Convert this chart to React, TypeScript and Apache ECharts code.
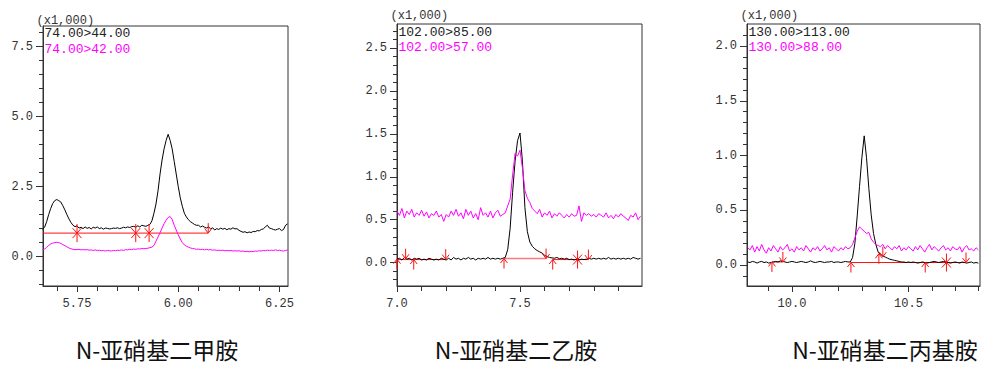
import React, { useEffect, useRef } from "react";
import * as echarts from "echarts";

const MONO = "'Liberation Mono', 'DejaVu Sans Mono', monospace";
const CJK = "'Noto Sans CJK SC', 'Noto Sans', sans-serif";
const AXIS = "#333333";
const RED = "#ff1010";
const RED_LIGHT = "#ff7a7a";

// ---- N-亚硝基二甲胺 (NDMA), sampled every 0.005 min from 5.665 min, intensity x1,000 ----
const dmaStart = 5.665;
const dmaStep = 0.005;
const dmaTransitions = ["74.00>44.00", "74.00>42.00"];
const dmaQuant = [
  0.98, 1.05, 1.25, 1.5, 1.72, 1.9, 2.0, 2.04, 2.0, 1.95,
  1.82, 1.67, 1.5, 1.35, 1.22, 1.12, 1.07, 1.1, 1.02, 1.05,
  1.0, 1.06, 1.01, 1.04, 0.99, 1.05, 1.02, 1.06, 1.0, 1.03,
  0.98, 1.02, 1.01, 0.99, 1.0, 1.02, 1.01, 1.03, 1.0, 1.02,
  1.05, 1.03, 1.06, 1.04, 1.07, 1.08, 1.05, 1.1, 1.06, 1.12,
  1.1, 1.08, 1.12, 1.15, 1.28, 1.55, 1.88, 2.35, 2.95, 3.45,
  3.85, 4.15, 4.37, 4.15, 3.85, 3.4, 2.95, 2.5, 2.1, 1.8,
  1.55, 1.42, 1.32, 1.25, 1.2, 1.15, 1.12, 1.12, 1.06, 1.09,
  1.05, 1.02, 1.06, 0.99, 1.03, 0.95, 1.0, 0.97, 1.02, 0.98,
  1.01, 0.96, 1.0, 0.98, 1.03, 0.99, 1.0, 0.94, 0.9, 0.87,
  0.89, 0.85, 0.88, 0.86, 0.9, 0.89, 0.93, 0.92, 0.97, 0.99,
  1.06, 1.12, 1.02, 1.0, 0.97, 0.95, 0.98, 1.0, 0.93, 0.97,
  1.12, 1.17,
];
const dmaQual = [
  0.24, 0.27, 0.33, 0.4, 0.45, 0.48, 0.5, 0.51, 0.5, 0.47,
  0.43, 0.39, 0.35, 0.31, 0.28, 0.26, 0.25, 0.25, 0.26, 0.24,
  0.25, 0.24, 0.25, 0.23, 0.24, 0.22, 0.24, 0.22, 0.23, 0.21,
  0.22, 0.2, 0.22, 0.21, 0.2, 0.22, 0.21, 0.23, 0.22, 0.24,
  0.22, 0.25, 0.24, 0.26, 0.25, 0.27, 0.26, 0.28, 0.27, 0.29,
  0.28, 0.29, 0.3, 0.32, 0.34, 0.4, 0.55, 0.7, 0.85, 1.02,
  1.18, 1.3, 1.4, 1.43, 1.33, 1.12, 0.95, 0.78, 0.63, 0.5,
  0.42, 0.37, 0.34, 0.31, 0.29, 0.28, 0.26, 0.27, 0.25, 0.26,
  0.24, 0.26, 0.24, 0.25, 0.23, 0.24, 0.22, 0.23, 0.22, 0.23,
  0.21, 0.22, 0.21, 0.22, 0.2, 0.21, 0.2, 0.21, 0.19, 0.2,
  0.18, 0.19, 0.17, 0.19, 0.18, 0.2, 0.19, 0.21, 0.2, 0.22,
  0.21, 0.23, 0.22, 0.23, 0.22, 0.24, 0.22, 0.23, 0.21, 0.2,
  0.22, 0.24,
];
// integration marks: [time, level, kind] kind 0 = split, 1 = start (up), 2 = end (down)
const dmaMarks = [
  [5.75, 0.84, 0],
  [5.895, 0.84, 0],
  [5.928, 0.84, 0],
  [6.074, 0.84, 2],
];
// baselines: [from, to, level, light]
const dmaBaselines = [[5.666, 6.074, 0.84, 0]];
const dmaXMajor = [5.75, 6.0, 6.25];
const dmaXMinor = [5.7, 5.8, 5.85, 5.9, 5.95, 6.05, 6.1, 6.15, 6.2];
const dmaYMajor = [0, 2.5, 5, 7.5];
const dmaYMinor = [-1, -0.5, 0.5, 1, 1.5, 2, 3, 3.5, 4, 4.5, 5.5, 6, 6.5, 7, 8];

// ---- N-亚硝基二乙胺 (NDEA), sampled every 0.01 min from 7.00 min ----
const deaStart = 7.0;
const deaStep = 0.01;
const deaTransitions = ["102.00>85.00", "102.00>57.00"];
const deaQuant = [
  0.04, 0.05, 0.03, 0.06, 0.04, 0.05, 0.03, 0.05, 0.04, 0.05,
  0.03, 0.04, 0.03, 0.05, 0.04, 0.03, 0.04, 0.03, 0.05, 0.04,
  0.03, 0.05, 0.03, 0.06, 0.04, 0.05, 0.03, 0.05, 0.04, 0.06,
  0.04, 0.05, 0.03, 0.05, 0.04, 0.05, 0.04, 0.06, 0.04, 0.05,
  0.04, 0.05, 0.04, 0.05, 0.06, 0.15, 0.4, 0.82, 1.18, 1.42,
  1.51, 1.18, 0.64, 0.36, 0.24, 0.19, 0.16, 0.14, 0.125, 0.11,
  0.085, 0.07, 0.06, 0.055, 0.05, 0.06, 0.045, 0.05, 0.04, 0.05,
  0.035, 0.04, 0.03, 0.04, 0.03, 0.04, 0.035, 0.04, 0.05, 0.04,
  0.05, 0.04, 0.05, 0.04, 0.05, 0.04, 0.06, 0.04, 0.05, 0.04,
  0.05, 0.04, 0.05, 0.04, 0.05, 0.04, 0.06, 0.05, 0.04, 0.05,
];
const deaQual = [
  0.6, 0.55, 0.63, 0.52, 0.6, 0.56, 0.62, 0.53, 0.58, 0.55,
  0.61, 0.54, 0.59, 0.52, 0.57, 0.55, 0.6, 0.53, 0.56, 0.48,
  0.56, 0.53, 0.6, 0.55, 0.62, 0.54, 0.58, 0.51, 0.62, 0.55,
  0.6, 0.52, 0.57, 0.5, 0.64, 0.55, 0.58, 0.53, 0.6, 0.52,
  0.58, 0.61, 0.54, 0.56, 0.58, 0.66, 0.74, 1.02, 1.27, 1.24,
  1.31, 1.1, 0.84, 0.75, 0.7, 0.63, 0.6, 0.57, 0.62, 0.53,
  0.58, 0.55, 0.6, 0.52, 0.57, 0.54, 0.58, 0.55, 0.52, 0.56,
  0.53, 0.57, 0.54, 0.55, 0.66, 0.48, 0.58, 0.55, 0.57, 0.54,
  0.56, 0.53, 0.57, 0.55, 0.53, 0.58, 0.52, 0.55, 0.51, 0.56,
  0.53, 0.57, 0.54, 0.52, 0.49, 0.55, 0.53, 0.58, 0.5, 0.54,
];
const deaMarks = [
  [7.0, 0.04, 1],
  [7.035, 0.045, 2],
  [7.068, 0.035, 1],
  [7.198, 0.04, 2],
  [7.435, 0.047, 1],
  [7.606, 0.047, 2],
  [7.633, 0.035, 1],
  [7.734, 0.035, 0],
  [7.778, 0.035, 2],
];
const deaBaselines = [
  [7.0, 7.198, 0.035, 0],
  [7.435, 7.606, 0.047, 1],
  [7.633, 7.778, 0.035, 0],
];
const deaXMajor = [7.0, 7.5];
const deaXMinor = [7.1, 7.2, 7.3, 7.4, 7.6, 7.7, 7.8, 7.9];
const deaYMajor = [0, 0.5, 1, 1.5, 2, 2.5];
const deaYMinor = [
  -0.2, -0.1, 0.1, 0.2, 0.3, 0.4, 0.6, 0.7, 0.8, 0.9, 1.1, 1.2,
  1.3, 1.4, 1.6, 1.7, 1.8, 1.9, 2.1, 2.2, 2.3, 2.4, 2.6, 2.7,
];

// ---- N-亚硝基二丙基胺 (NDPA), sampled every 0.01 min from 9.81 min ----
const dpaStart = 9.81;
const dpaStep = 0.01;
const dpaTransitions = ["130.00>113.00", "130.00>88.00"];
const dpaQuant = [
  0.03, 0.025, 0.035, 0.03, 0.02, 0.03, 0.035, 0.025, 0.03, 0.02,
  0.025, 0.03, 0.035, 0.03, 0.04, 0.035, 0.03, 0.025, 0.03, 0.035,
  0.03, 0.025, 0.03, 0.035, 0.03, 0.025, 0.03, 0.04, 0.03, 0.025,
  0.03, 0.035, 0.03, 0.025, 0.03, 0.03, 0.035, 0.025, 0.03, 0.03,
  0.025, 0.03, 0.035, 0.03, 0.03, 0.07, 0.2, 0.45, 0.72, 0.98,
  1.18, 0.98, 0.7, 0.46, 0.29, 0.19, 0.12, 0.1, 0.085, 0.075,
  0.065, 0.055, 0.05, 0.045, 0.04, 0.035, 0.03, 0.03, 0.025, 0.03,
  0.025, 0.03, 0.025, 0.02, 0.025, 0.03, 0.025, 0.02, 0.025, 0.03,
  0.035, 0.03, 0.025, 0.03, 0.035, 0.03, 0.025, 0.02, 0.025, 0.03,
  0.025, 0.02, 0.03, 0.025, 0.02, 0.025, 0.03, 0.02, 0.025, 0.02,
];
const dpaQual = [
  0.16, 0.14, 0.18, 0.12, 0.17, 0.13, 0.19, 0.14, 0.11, 0.16,
  0.13, 0.18, 0.15, 0.12, 0.17, 0.14, 0.16, 0.19, 0.13, 0.15,
  0.12, 0.17, 0.14, 0.16, 0.13, 0.18, 0.15, 0.12, 0.16, 0.14,
  0.17, 0.13, 0.15, 0.18, 0.14, 0.16, 0.12, 0.17, 0.15, 0.13,
  0.16, 0.14, 0.17, 0.15, 0.16, 0.19, 0.25, 0.31, 0.35, 0.33,
  0.31, 0.29, 0.3, 0.24, 0.21, 0.19, 0.18, 0.17, 0.19, 0.15,
  0.18, 0.16, 0.14, 0.17, 0.15, 0.18, 0.13, 0.16, 0.14, 0.17,
  0.15, 0.13, 0.17, 0.14, 0.18, 0.15, 0.12, 0.16, 0.19, 0.14,
  0.17, 0.15, 0.13, 0.16, 0.18, 0.14, 0.16, 0.13, 0.17, 0.15,
  0.14, 0.17, 0.12, 0.16, 0.18, 0.14, 0.15, 0.13, 0.16, 0.14,
];
const dpaMarks = [
  [9.914, 0.03, 1],
  [9.961, 0.03, 2],
  [10.253, 0.025, 1],
  [10.373, 0.105, 1],
  [10.39, 0.078, 2],
  [10.572, 0.025, 1],
  [10.663, 0.025, 0],
  [10.747, 0.025, 2],
];
const dpaBaselines = [
  [9.914, 9.961, 0.03, 0],
  [10.253, 10.747, 0.025, 0],
];
const dpaXMajor = [10.0, 10.5];
const dpaXMinor = [9.9, 10.1, 10.2, 10.3, 10.4, 10.6, 10.7, 10.8];
const dpaYMajor = [0, 0.5, 1, 1.5, 2];
const dpaYMinor = [
  -0.1, 0.1, 0.2, 0.3, 0.4, 0.6, 0.7, 0.8, 0.9, 1.1, 1.2, 1.3,
  1.4, 1.6, 1.7, 1.8, 1.9, 2.1,
];

const captions = ["N-亚硝基二甲胺", "N-亚硝基二乙胺", "N-亚硝基二丙基胺"];
const unitLabel = "(x1,000)";

// sample index -> retention time
const toPoints = (start: number, step: number, values: number[]) =>
  values.map((v, i) => [+(start + i * step).toFixed(4), v]);

const panels = [
  {
    left: 43, top: 26, width: 245, height: 260,
    xMin: 5.666, xMax: 6.271, yMin: -1.05, yMax: 8.24, xDigits: 2,
    unitY: 20.7, legendY: [33.5, 49.3], captionX: 157,
    xMajor: dmaXMajor, xMinor: dmaXMinor, yMajor: dmaYMajor, yMinor: dmaYMinor,
    start: dmaStart, step: dmaStep, quant: dmaQuant, qual: dmaQual,
    names: dmaTransitions, marks: dmaMarks, baselines: dmaBaselines, caption: captions[0],
  },
  {
    left: 397, top: 24, width: 245, height: 262,
    xMin: 7.0, xMax: 7.996, yMin: -0.273, yMax: 2.78, xDigits: 1,
    unitY: 16, legendY: [32.3, 47.3], captionX: 516,
    xMajor: deaXMajor, xMinor: deaXMinor, yMajor: deaYMajor, yMinor: deaYMinor,
    start: deaStart, step: deaStep, quant: deaQuant, qual: deaQual,
    names: deaTransitions, marks: deaMarks, baselines: deaBaselines, caption: captions[1],
  },
  {
    left: 747, top: 24, width: 233, height: 262,
    xMin: 9.807, xMax: 10.807, yMin: -0.189, yMax: 2.2, xDigits: 1,
    unitY: 16, legendY: [32.3, 47.3], captionX: 885,
    xMajor: dpaXMajor, xMinor: dpaXMinor, yMajor: dpaYMajor, yMinor: dpaYMinor,
    start: dpaStart, step: dpaStep, quant: dpaQuant, qual: dpaQual,
    names: dpaTransitions, marks: dpaMarks, baselines: dpaBaselines, caption: captions[2],
  },
];

function renderMark(_params: any, api: any) {
  const [x, y] = api.coord([api.value(0), api.value(1)]);
  const kind = api.value(2);
  const style = { stroke: RED, lineWidth: 1, fill: null };
  if (kind === 0) {
    return {
      type: "group",
      children: [
        { type: "line", shape: { x1: x, y1: y - 9, x2: x, y2: y + 9 }, style },
        { type: "line", shape: { x1: x - 4.5, y1: y - 5, x2: x + 4.5, y2: y + 5 }, style },
        { type: "line", shape: { x1: x - 4.5, y1: y + 5, x2: x + 4.5, y2: y - 5 }, style },
      ],
    };
  }
  // start marks hang below the tip, end marks stand above it
  const dir = kind === 1 ? 1 : -1;
  return {
    type: "group",
    children: [
      { type: "line", shape: { x1: x, y1: y, x2: x, y2: y + dir * 10 }, style },
      {
        type: "polyline",
        shape: { points: [[x - 3.5, y + dir * 4.5], [x, y], [x + 3.5, y + dir * 4.5]] },
        style,
      },
    ],
  };
}

function renderBaseline(_params: any, api: any) {
  const a = api.coord([api.value(0), api.value(2)]);
  const b = api.coord([api.value(1), api.value(2)]);
  const light = api.value(3) === 1;
  return {
    type: "line",
    shape: { x1: a[0], y1: a[1], x2: b[0], y2: b[1] },
    style: { stroke: light ? RED_LIGHT : RED, lineWidth: light ? 1.5 : 1 },
  };
}

function buildOption() {
  const grid: any[] = [];
  const xAxis: any[] = [];
  const yAxis: any[] = [];
  const series: any[] = [];
  const graphic: any[] = [];

  panels.forEach((p, i) => {
    grid.push({
      left: p.left, top: p.top, width: p.width, height: p.height,
      show: true, borderColor: AXIS, borderWidth: 1, backgroundColor: "transparent",
    });
    const common = { type: "value", gridIndex: i, splitLine: { show: false } };
    xAxis.push({
      ...common, position: "bottom", min: p.xMin, max: p.xMax,
      axisLine: { show: true, onZero: false, lineStyle: { color: AXIS, width: 1 } },
      axisTick: { show: true, length: 6, customValues: p.xMajor, lineStyle: { color: AXIS } },
      axisLabel: {
        customValues: p.xMajor, margin: 12, color: "#333", fontFamily: MONO, fontSize: 12,
        formatter: (v: number) => v.toFixed(p.xDigits),
      },
    });
    xAxis.push({
      ...common, position: "bottom", min: p.xMin, max: p.xMax,
      axisLine: { show: false, onZero: false },
      axisTick: { show: true, length: 5, customValues: p.xMinor, lineStyle: { color: AXIS } },
      axisLabel: { show: false },
    });
    yAxis.push({
      ...common, position: "left", min: p.yMin, max: p.yMax,
      axisLine: { show: true, onZero: false, lineStyle: { color: AXIS, width: 1 } },
      axisTick: { show: true, length: 7, customValues: p.yMajor, lineStyle: { color: AXIS } },
      axisLabel: {
        customValues: p.yMajor, margin: 10, color: "#333", fontFamily: MONO, fontSize: 12,
        formatter: (v: number) => v.toFixed(1),
      },
    });
    yAxis.push({
      ...common, position: "left", min: p.yMin, max: p.yMax,
      axisLine: { show: false, onZero: false },
      axisTick: { show: true, length: 4, customValues: p.yMinor, lineStyle: { color: AXIS } },
      axisLabel: { show: false },
    });

    const axes = { xAxisIndex: 2 * i, yAxisIndex: 2 * i };
    series.push({
      type: "line", name: p.names[0], ...axes, data: toPoints(p.start, p.step, p.quant),
      showSymbol: false, symbol: "none", silent: true, clip: true,
      lineStyle: { color: "#000000", width: 1 },
    });
    series.push({
      type: "line", name: p.names[1], ...axes, data: toPoints(p.start, p.step, p.qual),
      showSymbol: false, symbol: "none", silent: true, clip: true,
      lineStyle: { color: "#ff00ff", width: 1 },
    });
    series.push({
      type: "custom", ...axes, data: p.baselines, encode: { x: [0, 1], y: 2 },
      renderItem: renderBaseline, silent: true, z: 3,
    });
    series.push({
      type: "custom", ...axes, data: p.marks, encode: { x: 0, y: 1 },
      renderItem: renderMark, silent: true, z: 4,
    });

    graphic.push({
      type: "text", x: p.left - 6.5, y: p.unitY,
      style: {
        text: unitLabel, fill: "#333", font: `12px ${MONO}`,
        align: "left", verticalAlign: "middle", textAlign: "left", textVerticalAlign: "middle",
      },
    });
    p.names.forEach((name, k) => {
      graphic.push({
        type: "text", x: p.left + 1.5, y: p.legendY[k],
        style: {
          text: name, fill: k === 0 ? "#222" : "#ff00ff", font: `13px ${MONO}`,
          align: "left", verticalAlign: "middle", textAlign: "left", textVerticalAlign: "middle",
        },
      });
    });
    graphic.push({
      type: "text", x: p.captionX, y: 349,
      style: {
        text: p.caption, fill: "#111", font: `23px ${CJK}`,
        align: "center", verticalAlign: "middle", textAlign: "center", textVerticalAlign: "middle",
      },
    });
  });

  return { animation: false, backgroundColor: "#ffffff", grid, xAxis, yAxis, series, graphic };
}

export default function App() {
  const ref = useRef<HTMLDivElement>(null);
  useEffect(() => {
    document.body.style.margin = "0";
    const chart = echarts.init(ref.current as HTMLDivElement, null, { renderer: "svg" });
    chart.setOption(buildOption() as any);
    return () => chart.dispose();
  }, []);
  return <div ref={ref} style={{ width: 987, height: 365 }} />;
}
